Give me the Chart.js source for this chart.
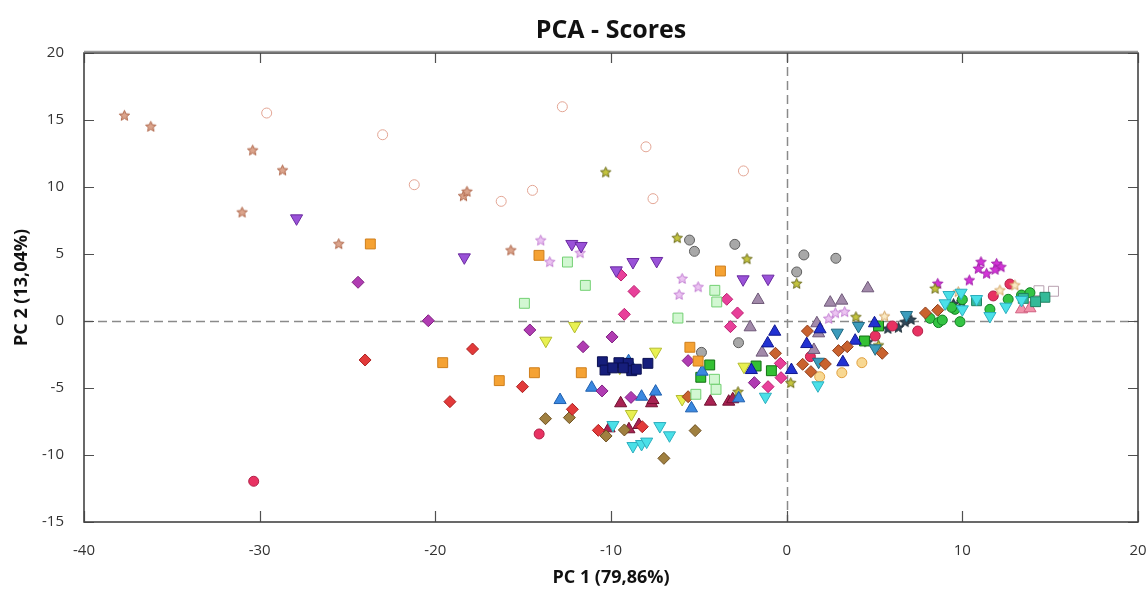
<!DOCTYPE html>
<html>
<head>
<meta charset="utf-8">
<script src="https://cdn.jsdelivr.net/npm/chart.js@4"></script>
<style>
  html, body { margin: 0; padding: 0; background: #fff; }
  #wrap { width: 1148px; height: 589px; position: relative; }
</style>
</head>
<body>
<div id="wrap"><canvas id="pca"></canvas></div>
<script>
// ---- axis ticks ----
const X_TICKS = [-40, -30, -20, -10, 0, 10, 20];
const Y_TICKS = [-15, -10, -5, 0, 5, 10, 15, 20];

// ---- scores per group, [PC1, PC2] ----
const salmonStars = [[-37.7,15.35],[-36.2,14.53],[-30.4,12.76],[-28.7,11.27],[-31.0,8.13],[-25.5,5.77],[-18.4,9.35],[-18.2,9.68],[-15.7,5.3]];
const hollowCircles = [[-29.6,15.52],[-23.0,13.9],[-21.2,10.17],[-12.77,15.99],[-8.01,13.0],[-2.46,11.2],[-14.47,9.75],[-16.25,8.93],[-7.61,9.13]];
const purpleDownTri = [[-27.9,7.66],[-18.35,4.75],[-12.23,5.75],[-11.7,5.6],[-8.75,4.4],[-7.4,4.48],[-9.7,3.78],[-2.48,3.11],[-1.06,3.16]];
const orangeSquares = [[-23.7,5.75],[-14.1,4.9],[-3.77,3.73],[-19.58,-3.11],[-16.36,-4.45],[-14.36,-3.86],[-11.69,-3.86],[-5.51,-1.96],[-5.04,-2.99]];
const paleGreenSquares = [[-12.48,4.4],[-11.46,2.66],[-4.09,2.29],[-3.98,1.42],[-6.19,0.22],[-14.93,1.32],[-4.11,-4.35],[-4.02,-5.1],[-5.17,-5.47]];
const pinkDiamonds = [[-9.43,3.43],[-8.69,2.21],[-9.24,0.5],[-3.41,1.62],[-2.8,0.6],[-3.2,-0.42],[-1.06,-4.9],[-0.36,-3.16],[-0.32,-4.23]];
const purpleDiamonds = [[-24.4,2.89],[-20.4,0.02],[-14.62,-0.67],[-11.59,-1.92],[-9.94,-1.19],[-10.51,-5.22],[-8.86,-5.7],[-5.61,-2.96],[-1.84,-4.6]];
const redDiamonds = [[-24.0,-2.91],[-17.88,-2.09],[-19.17,-6.02],[-15.04,-4.9],[-12.2,-6.59],[-10.72,-8.16],[-8.22,-7.89]];
const brownDiamonds = [[-13.73,-7.29],[-12.37,-7.21],[-10.28,-8.58],[-9.24,-8.13],[-6.99,-10.25],[-5.21,-8.18]];
const siennaDiamonds = [[-5.61,-5.65],[-0.64,-2.41],[1.18,-0.75],[0.91,-3.23],[1.38,-3.78],[2.2,-3.21],[2.95,-2.21],[3.45,-1.92],[5.44,-2.41],[7.9,0.6],[8.6,0.8]];
const blueTriangles = [[1.14,-1.72],[0.27,-3.66],[1.9,-0.62],[3.2,-3.08],[3.9,-1.47],[5.0,-0.17],[-1.08,-1.67],[-0.68,-0.8],[-2.01,-3.66]];
const skyTriangles = [[-12.9,-5.9],[-11.1,-4.98],[-8.26,-5.65],[-7.46,-5.27],[-5.42,-6.52],[-4.81,-3.78],[-2.73,-5.77],[-9.0,-3.0]];
const navySquares = [[-10.49,-3.04],[-10.34,-3.66],[-9.55,-3.11],[-9.02,-3.16],[-8.82,-3.71],[-8.56,-3.6],[-7.9,-3.16],[-9.9,-3.5],[-9.3,-3.5]];
const yellowDownTri = [[-12.07,-0.37],[-13.71,-1.47],[-7.46,-2.29],[-9.5,-3.48],[-8.84,-6.94],[-5.95,-5.82],[-2.43,-3.41]];
const cyanDownTri = [[-9.89,-7.76],[-7.22,-7.84],[-6.67,-8.53],[-8.75,-9.33],[-8.26,-9.18],[-7.97,-9.0],[-1.21,-5.65],[1.78,-4.8],[9.24,1.94],[9.93,2.11],[10.0,0.87],[11.57,0.37],[12.48,1.07],[10.81,1.64],[13.37,1.57],[9.02,1.32]];
const tealDownTri = [[2.88,-0.87],[4.09,-0.37],[6.82,0.45],[1.82,-3.04],[5.04,-2.04]];
const grayCircles = [[-5.53,6.04],[-5.25,5.2],[-2.95,5.72],[0.57,3.66],[-2.74,-1.62],[-4.85,-2.34],[0.98,4.93],[2.8,4.68]];
const mauveTriangles = [[-1.63,1.57],[-2.08,-0.47],[-1.4,-2.36],[4.62,2.44],[2.48,1.37],[3.14,1.52],[1.72,-0.17],[1.82,-0.92],[1.55,-2.16]];
const lavenderStars = [[-14.0,6.04],[-13.49,4.43],[-11.76,5.1],[-5.95,3.18],[-5.04,2.56],[-6.12,1.99],[2.77,0.62],[3.3,0.7],[2.39,0.2]];
const oliveStars = [[-10.3,11.12],[-6.23,6.22],[-2.26,4.65],[0.57,2.81],[0.23,-4.6],[3.94,0.32],[5.23,-1.79],[8.45,2.44],[-2.77,-5.27]];
const magentaStars = [[11.06,4.43],[10.91,3.93],[11.38,3.56],[11.95,4.3],[12.2,4.05],[11.86,3.86],[10.4,3.06],[8.6,2.81]];
const creamStars = [[5.57,0.37],[9.77,2.19],[12.14,2.31],[12.99,2.69]];
const crimsonCircles = [[-30.34,-11.96],[-14.09,-8.43],[1.35,-2.66],[5.04,-1.12],[6.02,-0.37],[7.46,-0.75],[12.71,2.76],[11.76,1.87]];
const maroonTriangles = [[-9.45,-6.14],[-7.69,-6.14],[-7.61,-5.9],[-8.41,-7.76],[-8.98,-8.08],[-10.11,-8.01],[-4.34,-6.02],[-3.3,-6.02],[-3.07,-5.84]];
const greenSquares = [[-4.38,-3.28],[-4.89,-4.2],[-1.74,-3.36],[-0.87,-3.71],[4.43,-1.49],[5.23,-0.37]];
const seaGreenSquares = [[14.7,1.77],[14.17,1.44],[13.47,1.69],[10.81,1.51]];
const greenCircles = [[8.16,0.2],[8.64,-0.12],[8.86,0.07],[9.58,0.87],[9.87,-0.05],[11.57,0.87],[12.61,1.62],[13.37,1.94],[13.85,2.11],[9.39,1.02],[10.0,1.6]];
const pinkTriangles = [[13.37,0.87],[13.85,0.95]];
const tanCircles = [[4.28,-3.11],[3.14,-3.86],[1.88,-4.16]];
const slateStars = [[5.76,-0.55],[6.36,-0.47],[6.74,-0.05],[7.08,0.12],[4.62,-1.54],[9.96,1.44],[9.5,1.3]];
const hollowSquares = [[15.19,2.22],[14.36,2.26]];

const TITLE = 'PCA - Scores';

// five-point star marker drawn on a small canvas
function makeStar(fill, stroke, size) {
  const c = document.createElement('canvas');
  c.width = size; c.height = size;
  const g = c.getContext('2d');
  const cx = size / 2, cy = size / 2 + 0.5, R = size / 2 - 1, r = R * 0.45;
  g.beginPath();
  for (let i = 0; i < 10; i++) {
    const a = -Math.PI / 2 + i * Math.PI / 5;
    const rr = i % 2 ? r : R;
    g.lineTo(cx + rr * Math.cos(a), cy + rr * Math.sin(a));
  }
  g.closePath();
  g.fillStyle = fill; g.fill();
  g.strokeStyle = stroke; g.lineWidth = 1; g.stroke();
  return c;
}

const pts = arr => arr.map(([x, y]) => ({ x, y }));

function ds(data, style, fill, stroke, radius, rotation) {
  return {
    data: pts(data),
    pointStyle: style,
    pointRadius: radius,
    pointRotation: rotation || 0,
    backgroundColor: fill,
    borderColor: stroke,
    borderWidth: 1,
  };
}
const star = (data, fill, stroke) => ds(data, makeStar(fill, stroke, 13), fill, stroke, 6);

const datasets = [
  ds(hollowCircles,   'circle',   '#ffffff', '#e3a594', 5),
  star(salmonStars,   '#dba48c', '#b0684c'),
  ds(purpleDownTri,   'triangle', '#9a52d8', '#6a2aa0', 7, 180),
  ds(orangeSquares,   'rect',     '#f5a233', '#cf7f1c', 7),
  ds(paleGreenSquares,'rect',     '#d2f7d2', '#72d072', 7),
  ds(purpleDiamonds,  'rectRot',  '#b03cb2', '#7e2080', 6),
  ds(pinkDiamonds,    'rectRot',  '#e8409a', '#bc2070', 6),
  ds(redDiamonds,     'rectRot',  '#e23a3a', '#ac2020', 6),
  ds(brownDiamonds,   'rectRot',  '#a08040', '#6e5020', 6),
  ds(siennaDiamonds,  'rectRot',  '#c9622e', '#8e3e1c', 6),
  ds(navySquares,     'rect',     '#161e7c', '#0a0f50', 7),
  ds(skyTriangles,    'triangle', '#3a88e0', '#1f5fae', 7),
  ds(blueTriangles,   'triangle', '#2232d2', '#101890', 7),
  ds(yellowDownTri,   'triangle', '#e8f052', '#b4bc2e', 7, 180),
  ds(cyanDownTri,     'triangle', '#4ae0e8', '#2eaebe', 7, 180),
  ds(tealDownTri,     'triangle', '#3c9cbc', '#206880', 7, 180),
  ds(grayCircles,     'circle',   '#a8a8a8', '#5e5e5e', 5),
  ds(mauveTriangles,  'triangle', '#a28aaa', '#6e5878', 7),
  star(lavenderStars, '#ecc4f2', '#c27ed2'),
  star(oliveStars,    '#c4c43e', '#6c6c1c'),
  star(magentaStars,  '#d434d8', '#a020a8'),
  star(creamStars,    '#faeac4', '#d2a262'),
  ds(maroonTriangles, 'triangle', '#a82252', '#701030', 7),
  ds(greenSquares,    'rect',     '#34c034', '#127012', 7),
  ds(seaGreenSquares, 'rect',     '#34ba98', '#1e8060', 7),
  ds(greenCircles,    'circle',   '#34c444', '#128022', 5),
  ds(crimsonCircles,  'circle',   '#e83262', '#b02048', 5),
  ds(pinkTriangles,   'triangle', '#f292aa', '#d06080', 7),
  ds(tanCircles,      'circle',   '#f8d892', '#e0a040', 5),
  star(slateStars,    '#30485a', '#1c2c36'),
  ds(hollowSquares,   'rect',     '#ffffff', '#b8a0b0', 7),
];

const FONT = "'Open Sans', 'Liberation Sans', sans-serif";

// frame, inner tick marks, dashed zero lines and a title centred on the plot box
const framePlugin = {
  id: 'frame',
  beforeDatasetsDraw(chart) {
    const { ctx, chartArea: a, scales: { x, y } } = chart;
    ctx.save();
    ctx.strokeStyle = '#8a8a8a';
    ctx.lineWidth = 1.5;
    ctx.setLineDash([9, 5]);
    const x0 = Math.round(x.getPixelForValue(0)) + 0.5;
    const y0 = Math.round(y.getPixelForValue(0)) + 0.5;
    ctx.beginPath();
    ctx.moveTo(x0, a.top); ctx.lineTo(x0, a.bottom);
    ctx.moveTo(a.left, y0); ctx.lineTo(a.right, y0);
    ctx.stroke();
    ctx.restore();
  },
  afterDraw(chart) {
    const { ctx, chartArea: a, scales: { x, y } } = chart;
    ctx.save();
    ctx.strokeStyle = '#505050';
    ctx.lineWidth = 1.2;
    ctx.beginPath();
    X_TICKS.forEach(v => {
      const px = Math.round(x.getPixelForValue(v)) + 0.5;
      ctx.moveTo(px, a.top); ctx.lineTo(px, a.top + 10);
      ctx.moveTo(px, a.bottom); ctx.lineTo(px, a.bottom - 11);
    });
    Y_TICKS.forEach(v => {
      const py = Math.round(y.getPixelForValue(v)) + 0.5;
      ctx.moveTo(a.left, py); ctx.lineTo(a.left + 10, py);
      ctx.moveTo(a.right, py); ctx.lineTo(a.right - 10, py);
    });
    ctx.stroke();
    ctx.strokeStyle = '#444';
    ctx.lineWidth = 1.6;
    ctx.strokeRect(a.left, a.top, a.right - a.left, a.bottom - a.top);
    ctx.strokeStyle = '#9a9a9a';
    ctx.lineWidth = 1.5;
    ctx.beginPath();
    ctx.moveTo(a.left, a.top - 1.5); ctx.lineTo(a.right, a.top - 1.5);
    ctx.stroke();

    ctx.fillStyle = '#111';
    ctx.font = 'bold 25px ' + FONT;
    ctx.textAlign = 'center';
    ctx.textBaseline = 'middle';
    ctx.fillText(TITLE, (a.left + a.right) / 2, 31);
    ctx.restore();
  },
};

new Chart(document.getElementById('pca'), {
  type: 'scatter',
  data: { datasets },
  options: {
    responsive: true,
    maintainAspectRatio: false,
    animation: false,
    layout: { padding: { left: 0, right: 10, top: 53, bottom: 0 } },
    plugins: {
      legend: { display: false },
      tooltip: { enabled: false },
      title: { display: false },
    },
    scales: {
      x: {
        type: 'linear',
        min: -40, max: 20,
        afterBuildTicks: s => { s.ticks = X_TICKS.map(v => ({ value: v })); },
        afterFit: s => { s.height = 67; s.paddingLeft = 0; s.paddingRight = 0; },
        grid: { display: false, drawTicks: false },
        border: { display: false },
        ticks: { color: '#333', padding: 20, font: { family: FONT, size: 15 } },
        title: {
          display: true,
          text: 'PC 1 (79,86%)',
          color: '#111',
          font: { family: FONT, size: 18, weight: 'bold', lineHeight: 1.2 },
          padding: { top: 0, bottom: 0 },
        },
      },
      y: {
        type: 'linear',
        min: -15, max: 20,
        afterBuildTicks: s => { s.ticks = Y_TICKS.map(v => ({ value: v })); },
        afterFit: s => { s.width = 84; s.paddingTop = 0; s.paddingBottom = 0; },
        grid: { display: false, drawTicks: false },
        border: { display: false },
        ticks: { color: '#333', padding: 20, font: { family: FONT, size: 15 } },
        title: {
          display: true,
          text: 'PC 2 (13,04%)',
          color: '#111',
          font: { family: FONT, size: 18, weight: 'bold', lineHeight: 1.2 },
          padding: { top: 11, bottom: 0 },
        },
      },
    },
  },
  plugins: [framePlugin],
});
</script>
</body>
</html>
